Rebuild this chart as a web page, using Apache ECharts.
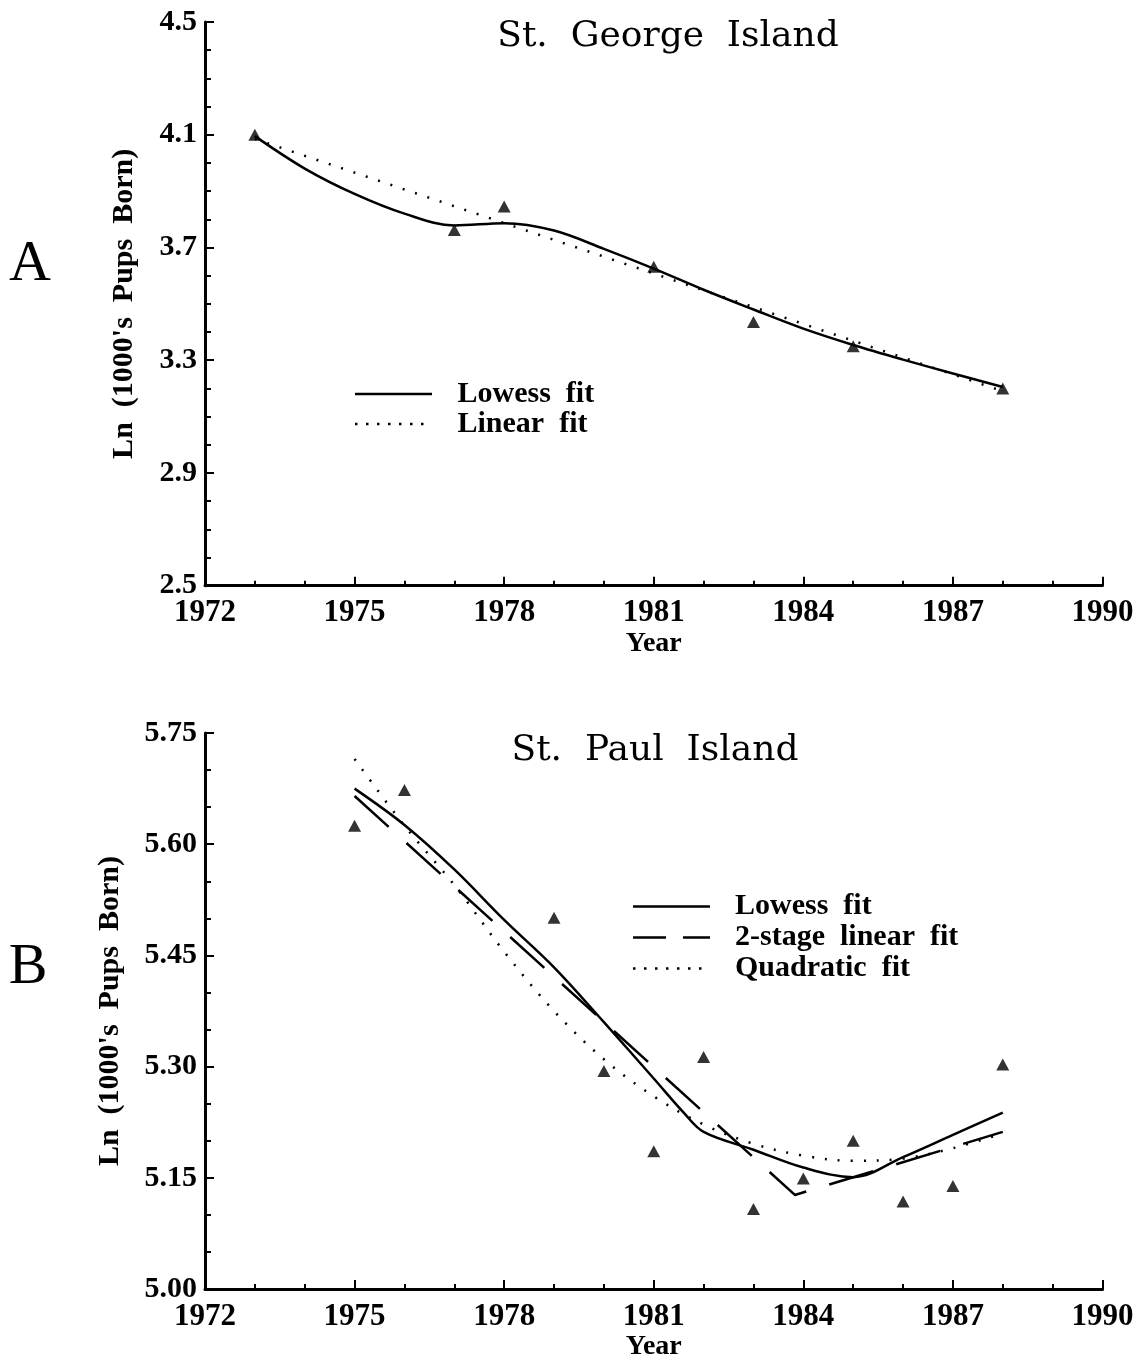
<!DOCTYPE html>
<html><head><meta charset="utf-8">
<script src="https://cdn.jsdelivr.net/npm/echarts@6/dist/echarts.min.js"></script>
<style>html,body{margin:0;padding:0;background:#fff}#c{width:1144px;height:1362px}</style>
</head><body><div id="c"></div>
<script>
// ---------- Panel A: St. George Island ----------
const georgeYears = [1973, 1977, 1978, 1981, 1983, 1985, 1988];
const georgeObserved = [4.100, 3.762, 3.845, 3.632, 3.436, 3.350, 3.200];
const georgeLowessYears = [1973, 1974, 1975, 1976, 1977, 1978, 1979, 1980, 1981, 1982, 1983, 1984, 1985, 1986, 1987, 1988];
const georgeLowess = [4.095, 3.980, 3.890, 3.820, 3.778, 3.786, 3.760, 3.695, 3.625, 3.550, 3.480, 3.412, 3.354, 3.302, 3.253, 3.205];
const georgeLinearYears = [1973, 1988];
const georgeLinear = [4.085, 3.190];

// ---------- Panel B: St. Paul Island ----------
const paulYears = [1975, 1976, 1979, 1980, 1981, 1982, 1983, 1984, 1985, 1986, 1987, 1988];
const paulObserved = [5.625, 5.673, 5.501, 5.294, 5.186, 5.313, 5.108, 5.149, 5.200, 5.118, 5.139, 5.303];
const paulLowessYears = [1975, 1976, 1977, 1978, 1979, 1980, 1981, 1981.6, 1982, 1983, 1984, 1985, 1986, 1987, 1988];
const paulLowess = [5.675, 5.626, 5.566, 5.498, 5.434, 5.360, 5.284, 5.238, 5.212, 5.188, 5.164, 5.151, 5.178, 5.208, 5.238];
const paulTwoStageYears = [1975, 1983.83, 1988];
const paulTwoStage = [5.665, 5.127, 5.212];
const paulQuadYears = [1975, 1976, 1977, 1978, 1979, 1980, 1981, 1982, 1983, 1984, 1985, 1986, 1987, 1988];
const paulQuad = [5.715, 5.625, 5.545, 5.455, 5.375, 5.310, 5.260, 5.222, 5.196, 5.180, 5.173, 5.176, 5.190, 5.210];

// ---------- Axis ticks ----------
const yearMin = 1972, yearMax = 1990, yearStep = 3;
const georgeTicks = { min: 2.5, max: 4.5, step: 0.4 };
const paulTicks = { min: 5.00, max: 5.75, step: 0.15 };

const pair = (xs, ys) => xs.map((x, i) => [x, ys[i]]);

const SERIF = "'Liberation Serif', 'Times New Roman', serif";

function xAxis(gridIndex) {
  return {
    type: 'value', gridIndex, min: yearMin, max: yearMax, interval: yearStep,
    name: 'Year', nameLocation: 'middle', nameGap: 36,
    nameTextStyle: { fontFamily: SERIF, fontWeight: 'bold', fontSize: 28, color: '#000' },
    axisLine: { show: true, lineStyle: { color: '#000', width: 3 } },
    axisTick: { show: true, inside: true, length: 9, lineStyle: { color: '#000', width: 2 } },
    minorTick: { show: true, splitNumber: 3, length: 5, lineStyle: { color: '#000', width: 2 } },
    axisLabel: { show: true, margin: 12, fontFamily: SERIF, fontWeight: 'bold', fontSize: 31, color: '#000', formatter: v => String(v) },
    splitLine: { show: false }, minorSplitLine: { show: false }
  };
}
function yAxis(gridIndex, t, decimals, minorSplit, nameGap) {
  return {
    type: 'value', gridIndex, min: t.min, max: t.max, interval: t.step,
    name: "Ln  (1000's  Pups  Born)", nameLocation: 'middle', nameGap, nameRotate: 90,
    nameTextStyle: { fontFamily: SERIF, fontWeight: 'bold', fontSize: 30, color: '#000' },
    axisLine: { show: true, lineStyle: { color: '#000', width: 3 } },
    axisTick: { show: true, inside: true, length: 9, lineStyle: { color: '#000', width: 2 } },
    minorTick: { show: true, splitNumber: minorSplit, length: 6, lineStyle: { color: '#000', width: 2 } },
    axisLabel: { show: true, margin: 8, fontFamily: SERIF, fontWeight: 'bold', fontSize: 30, color: '#000', formatter: v => v.toFixed(decimals) },
    splitLine: { show: false }, minorSplitLine: { show: false }
  };
}

const dotted = { color: '#000', width: 2.5, type: [2, 11] };
const solid = { color: '#000', width: 2.5, type: 'solid' };
const dashed = { color: '#000', width: 2.5, type: [46, 24] };
const tri = { type: 'scatter', symbol: 'triangle', symbolSize: [13, 12], itemStyle: { color: '#000' }, z: 5 };

// legend icons (shapes only)
const ICON_SOLID = 'path://M0,0H77V2.5H0Z';
const ICON_DASH = 'path://M0,0H33V2.5H0Z M50,0H77V2.5H50Z';
const ICON_DOT = 'path://M0,0H2.5V2.5H0Z M11,0H13.5V2.5H11Z M22,0H24.5V2.5H22Z M33,0H35.5V2.5H33Z M44,0H46.5V2.5H44Z M55,0H57.5V2.5H55Z M66,0H68.5V2.5H66Z M77,0H77.01V2.5H77Z';

const legendText = { fontFamily: SERIF, fontWeight: 'bold', fontSize: 30, color: '#000', padding: [0, 0, 0, 20] };

const option = {
  backgroundColor: '#fff',
  animation: false,
  grid: [
    { left: 205, top: 22, width: 897.5, height: 563.7 },
    { left: 205, top: 733, width: 897.5, height: 564 }
  ],
  xAxis: [xAxis(0), xAxis(1)],
  yAxis: [yAxis(0, georgeTicks, 1, 4, 66), yAxis(1, paulTicks, 2, 3, 80)],
  legend: [
    { orient: 'vertical', left: 355, top: 379, padding: 0, itemGap: 0, itemWidth: 78, itemHeight: 2.5,
      textStyle: Object.assign({ lineHeight: 30 }, legendText),
      itemStyle: { color: '#000', borderWidth: 0 },
      formatter: n => n.replace(/ /g, '  '), selectedMode: false,
      data: [{ name: 'Lowess fit', icon: ICON_SOLID }, { name: 'Linear fit', icon: ICON_DOT }] },
    { orient: 'vertical', left: 633, top: 891, padding: 0, itemGap: 0, itemWidth: 77, itemHeight: 2.5,
      textStyle: Object.assign({ lineHeight: 31 }, legendText),
      itemStyle: { color: '#000', borderWidth: 0 },
      formatter: n => n.replace(/ /g, '  '), selectedMode: false,
      data: [{ name: 'Lowess fit', icon: ICON_SOLID }, { name: '2-stage linear fit', icon: ICON_DASH }, { name: 'Quadratic fit', icon: ICON_DOT }] }
  ],
  graphic: [
    { type: 'text', x: 668, y: 37, style: { text: 'St.  George  Island', font: "36px 'DejaVu Serif'", fill: '#000', textAlign: 'center', textVerticalAlign: 'middle' } },
    { type: 'text', x: 655, y: 751, style: { text: 'St.  Paul  Island', font: "36px 'DejaVu Serif'", fill: '#000', textAlign: 'center', textVerticalAlign: 'middle' } },
    { type: 'text', x: 30, y: 265, style: { text: 'A', font: "58px 'Liberation Serif'", fill: '#000', textAlign: 'center', textVerticalAlign: 'middle' } },
    { type: 'text', x: 28, y: 968, style: { text: 'B', font: "58px 'Liberation Serif'", fill: '#000', textAlign: 'center', textVerticalAlign: 'middle' } }
  ],
  series: [
    Object.assign({}, tri, { name: 'St. George observed', xAxisIndex: 0, yAxisIndex: 0, data: pair(georgeYears, georgeObserved) }),
    { name: 'Lowess fit', type: 'line', xAxisIndex: 0, yAxisIndex: 0, smooth: 0.35, symbol: 'none', lineStyle: solid, itemStyle: { color: '#000' }, data: pair(georgeLowessYears, georgeLowess) },
    { name: 'Linear fit', type: 'line', xAxisIndex: 0, yAxisIndex: 0, symbol: 'none', lineStyle: dotted, itemStyle: { color: '#000' }, data: pair(georgeLinearYears, georgeLinear) },

    Object.assign({}, tri, { name: 'St. Paul observed', xAxisIndex: 1, yAxisIndex: 1, data: pair(paulYears, paulObserved) }),
    { name: 'Lowess fit', type: 'line', xAxisIndex: 1, yAxisIndex: 1, smooth: 0.35, symbol: 'none', lineStyle: solid, itemStyle: { color: '#000' }, data: pair(paulLowessYears, paulLowess) },
    { name: '2-stage linear fit', type: 'line', xAxisIndex: 1, yAxisIndex: 1, symbol: 'none', lineStyle: dashed, itemStyle: { color: '#000' }, data: pair(paulTwoStageYears, paulTwoStage) },
    { name: 'Quadratic fit', type: 'line', xAxisIndex: 1, yAxisIndex: 1, smooth: 0.35, symbol: 'none', lineStyle: dotted, itemStyle: { color: '#000' }, data: pair(paulQuadYears, paulQuad) }
  ]
};

const chart = echarts.init(document.getElementById('c'), null, { renderer: 'canvas' });
chart.setOption(option);
</script>
</body></html>
